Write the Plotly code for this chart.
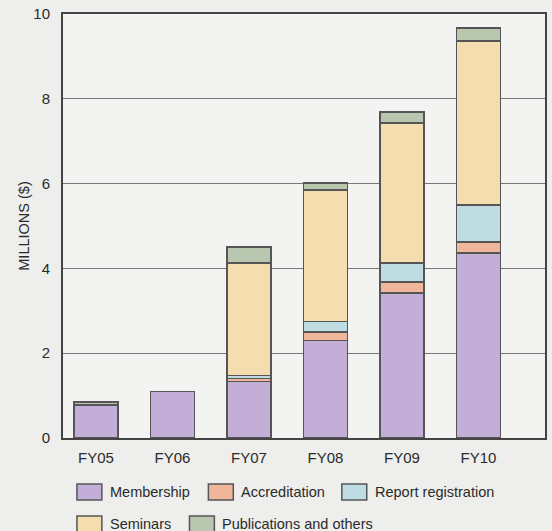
import plotly.graph_objects as go

categories = ["FY05", "FY06", "FY07", "FY08", "FY09", "FY10"]
membership = [0.78, 1.10, 1.33, 2.30, 3.42, 4.36]
accreditation = [0.0, 0.0, 0.07, 0.20, 0.26, 0.26]
report_registration = [0.0, 0.0, 0.07, 0.25, 0.45, 0.88]
seminars = [0.0, 0.0, 2.66, 3.10, 3.30, 3.86]
publications = [0.07, 0.0, 0.37, 0.17, 0.26, 0.31]
series_names = ["Membership", "Accreditation", "Report registration", "Seminars", "Publications and others"]
series_values = [membership, accreditation, report_registration, seminars, publications]
colors = ["#c3aed8", "#efb69c", "#bedce2", "#f4ddae", "#b9c7b1"]
y_ticks = [0, 2, 4, 6, 8, 10]

xpos = list(range(len(categories)))
fig = go.Figure()
for name, vals, col in zip(series_names, series_values, colors):
    fig.add_trace(go.Bar(
        x=xpos, y=vals, name=name, width=0.575,
        marker=dict(color=col, line=dict(color="#555555", width=1.5)),
        showlegend=False,
    ))

font_fam = "Liberation Sans, Arial, sans-serif"
txt = "#2a2a2a"
fig.update_layout(
    barmode="stack",
    width=552, height=531,
    margin=dict(l=63, r=5, t=14, b=93),
    paper_bgcolor="#eeefec",
    plot_bgcolor="#f3f4f1",
    font=dict(family=font_fam, size=15, color=txt),
    xaxis=dict(
        range=[-0.43, 5.87], tickmode="array", tickvals=xpos, ticktext=categories,
        showgrid=False, showline=True, linecolor="#444444", linewidth=2, mirror=True,
        ticks="", tickfont=dict(size=15, color=txt), ticklabelstandoff=5,
        zeroline=False, fixedrange=True,
    ),
    yaxis=dict(
        range=[0, 10], tickmode="array", tickvals=y_ticks,
        showgrid=True, gridcolor="#777777", gridwidth=1,
        showline=True, linecolor="#444444", linewidth=2, mirror=True,
        ticks="", tickfont=dict(size=15, color=txt), ticklabelstandoff=8,
        zeroline=False,
        title=dict(text="MILLIONS ($)", font=dict(size=14.5, color=txt), standoff=0),
    ),
)

# Manual legend (large swatches like the reference)
legend_items = [
    (0, 77, 0), (1, 209, 0), (2, 343, 0),
    (3, 77, 1), (4, 190, 1),
]
row_y = [492, 524]
W, H = 552, 531
for idx, xpx, row in legend_items:
    yc = row_y[row]
    fig.add_shape(type="rect", xref="paper", yref="paper",
                  x0=(xpx - 63) / (W - 68), x1=(xpx + 25 - 63) / (W - 68),
                  y0=(438 - (yc + 8)) / (438 - 14), y1=(438 - (yc - 8)) / (438 - 14),
                  fillcolor=colors[idx], line=dict(color="#555555", width=1.5))
    fig.add_annotation(xref="paper", yref="paper",
                       x=(xpx + 31 - 63) / (W - 68), y=(438 - yc) / (438 - 14),
                       text=series_names[idx], showarrow=False, xanchor="left", yanchor="middle",
                       font=dict(size=14.5, color=txt))

fig.write_html("out.html")
